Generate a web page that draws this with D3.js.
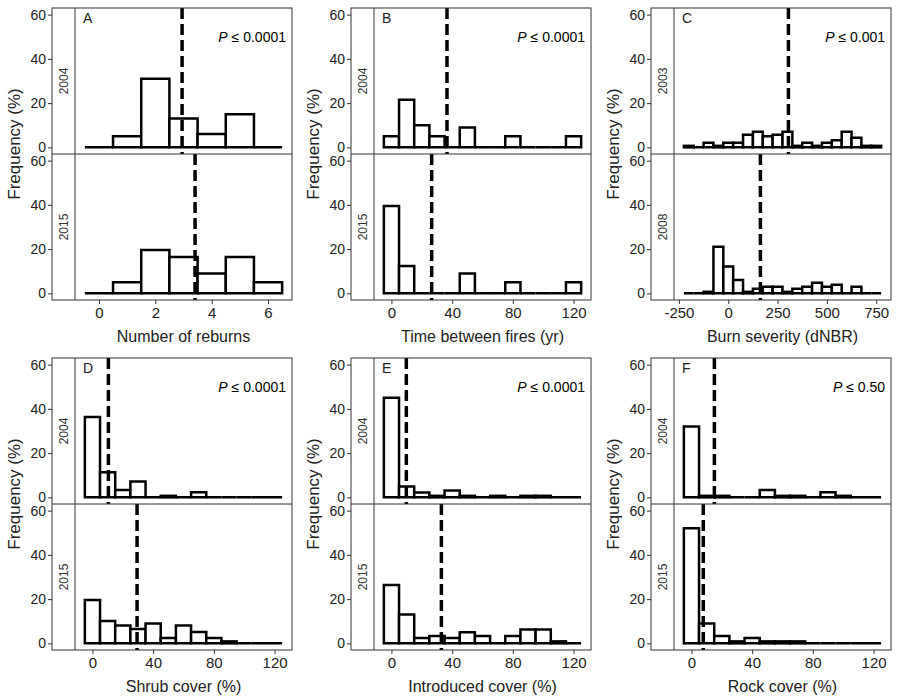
<!DOCTYPE html>
<html>
  <head>
    <meta charset="utf-8">
    <title>Reburn histograms</title>
    <script src="https://d3js.org/d3.v7.min.js"></script>
    <style>
      body { margin: 0; background: #ffffff; }
      text { font-family: "Liberation Sans", Arial, sans-serif; }
    </style>
  </head>
  <body>
    <svg width="900" height="700"></svg>
    <script>
      // panel texts
      var letters = ["A", "B", "C", "D", "E", "F"];
      var xTitles = ["Number of reburns", "Time between fires (yr)", "Burn severity (dNBR)",
                     "Shrub cover (%)", "Introduced cover (%)", "Rock cover (%)"];
      var pValues = ["0.0001", "0.0001", "0.001", "0.0001", "0.0001", "0.50"];
      var yearTop = ["2004", "2004", "2003", "2004", "2004", "2004"];
      var yearBottom = ["2015", "2015", "2008", "2015", "2015", "2015"];

      // bins: centre of first bin and bin width
      var firstBin = [0, 0, -200, 0, 0, 0];
      var binWidth = [1, 10, 50, 10, 10, 10];

      var xTicks = [[0, 2, 4, 6], [0, 40, 80, 120], [-250, 0, 250, 500, 750],
                    [0, 40, 80, 120], [0, 40, 80, 120], [0, 40, 80, 120]];
      var yTicks = [0, 20, 40, 60];

      // dashed lines (means)
      var meanTop = [2.95, 36.6, 305, 10.5, 9.8, 15.1];
      var meanBottom = [3.41, 26.5, 163, 29.4, 32.9, 7.8];

      // frequencies (%)
      var reburnsTop = [0, 5, 31, 13, 6, 15, 0];
      var reburnsBottom = [0, 5, 19.6, 16.4, 9, 16.4, 5];
      var intervalTop = [5, 21.5, 10, 5, 0, 9, 0, 0, 5, 0, 0, 0, 5];
      var intervalBottom = [39.5, 12.4, 0, 0, 0, 9, 0, 0, 5, 0, 0, 0, 5];
      var severityTop = [0.7, 0, 2.1, 0.7, 2.1, 2.1, 5.7, 7.1, 5, 5.7, 7.1, 0.7, 2.1, 0.7, 2.1, 3.2, 7.1, 4.3, 0.7, 0.7];
      var severityBottom = [0, 0, 0.7, 21.1, 12.1, 6, 0.7, 2.1, 3, 3, 0.7, 2.1, 3, 4.8, 3, 3.9, 0, 3, 0, 0];
      var shrubTop = [36.3, 11.3, 3.3, 7.2, 0, 0.7, 0, 2.3, 0, 0, 0, 0, 0];
      var shrubBottom = [19.6, 10.1, 8.1, 6.5, 9, 2.4, 8.1, 5.1, 2.4, 0.9, 0, 0, 0];
      var introducedTop = [45, 4.9, 2.2, 0.7, 3.1, 0.7, 0, 0.7, 0, 0.7, 0.7, 0, 0];
      var introducedBottom = [26.4, 13.1, 2.4, 3.3, 2.4, 5, 3.3, 0, 3.3, 6.3, 6.3, 0.9, 0];
      var rockTop = [32, 0.7, 0.7, 0, 0, 3.3, 0.7, 0.7, 0, 2.3, 0.7, 0, 0];
      var rockBottom = [52, 9, 3.3, 0.9, 2.4, 0.9, 0.9, 0.9, 0, 0, 0, 0, 0];

      var freqTop = [reburnsTop, intervalTop, severityTop, shrubTop, introducedTop, rockTop];
      var freqBottom = [reburnsBottom, intervalBottom, severityBottom, shrubBottom, introducedBottom, rockBottom];

      // layout
      var colLeft = [52, 351, 651],
          rowTop = [8, 358],
          boxWidth = 240,
          stripWidth = 23,
          facetHeight = 146;

      var svg = d3.select("svg");

      letters.forEach(function(letter, i) {
        var left = colLeft[i % 3],
            top = rowTop[Math.floor(i / 3)],
            dataLeft = left + stripWidth,
            right = left + boxWidth,
            bottom = top + 2 * facetHeight;

        var lo = firstBin[i] - binWidth[i] / 2,
            hi = firstBin[i] + binWidth[i] * (freqTop[i].length - 0.5),
            pad = (hi - lo) * 0.05;

        var x = d3.scaleLinear()
            .domain([lo - pad, hi + pad])
            .range([dataLeft, right]);

        var g = svg.append("g").attr("class", "panel");

        [freqTop[i], freqBottom[i]].forEach(function(values, f) {
          var fTop = top + f * facetHeight,
              fBottom = fTop + facetHeight;

          var y = d3.scaleLinear()
              .domain([-3, 63])
              .range([fBottom, fTop]);

          // bars
          g.selectAll(".bar-" + f)
            .data(values)
            .enter()
            .append("path")
            .attr("class", "bar-" + f)
            .attr("d", function(d, k) {
              var c = firstBin[i] + k * binWidth[i],
                  x0 = x(c - binWidth[i] / 2),
                  x1 = x(c + binWidth[i] / 2);
              return "M" + x0 + "," + y(0) + "H" + x1 + "V" + y(d) + "H" + x0 + "Z";
            })
            .attr("fill", "#ffffff")
            .attr("stroke", "#000000")
            .attr("stroke-width", 2.5)
            .attr("stroke-linejoin", "miter");

          // mean line
          var m = f === 0 ? meanTop[i] : meanBottom[i];
          g.append("line")
            .attr("x1", x(m))
            .attr("x2", x(m))
            .attr("y1", fTop)
            .attr("y2", fBottom)
            .attr("stroke", "#000000")
            .attr("stroke-width", 3.5)
            .attr("stroke-dasharray", "11,5");

          // y axis
          var yAxis = d3.axisLeft(y)
              .tickValues(yTicks)
              .tickSize(4)
              .tickPadding(2);
          var ya = g.append("g")
            .attr("transform", "translate(" + left + ",0)")
            .call(yAxis);
          ya.select(".domain").remove();
          ya.selectAll("line").attr("stroke", "#333333");
          ya.selectAll("text")
            .attr("fill", "#222222")
            .style("font-size", "14px")
            .style("font-family", "Liberation Sans, Arial, sans-serif");

          // strip label
          g.append("text")
            .attr("transform", "translate(" + (left + 16) + "," + (fTop + facetHeight / 2) + ") rotate(-90)")
            .attr("text-anchor", "middle")
            .attr("fill", "#333333")
            .style("font-size", "12px")
            .text(f === 0 ? yearTop[i] : yearBottom[i]);
        });

        // frame
        g.append("rect")
          .attr("x", left)
          .attr("y", top)
          .attr("width", boxWidth)
          .attr("height", 2 * facetHeight)
          .attr("fill", "none")
          .attr("stroke", "#333333")
          .attr("stroke-width", 1);
        g.append("line")
          .attr("x1", left).attr("x2", right)
          .attr("y1", top + facetHeight).attr("y2", top + facetHeight)
          .attr("stroke", "#333333");
        g.append("line")
          .attr("x1", dataLeft).attr("x2", dataLeft)
          .attr("y1", top).attr("y2", bottom)
          .attr("stroke", "#333333");

        // x axis (plain hyphen for negatives, as in the original)
        var xAxis = d3.axisBottom(x)
            .tickValues(xTicks[i])
            .tickFormat(function(d) { return String(d); })
            .tickSize(4)
            .tickPadding(3);
        var xa = g.append("g")
          .attr("transform", "translate(0," + bottom + ")")
          .call(xAxis);
        xa.select(".domain").remove();
        xa.selectAll("line").attr("stroke", "#333333");
        xa.selectAll("text")
          .attr("fill", "#222222")
          .style("font-size", "15px")
          .style("font-family", "Liberation Sans, Arial, sans-serif");

        // titles
        g.append("text")
          .attr("x", (dataLeft + right) / 2)
          .attr("y", bottom + 42)
          .attr("text-anchor", "middle")
          .attr("fill", "#222222")
          .style("font-size", "16px")
          .text(xTitles[i]);

        g.append("text")
          .attr("transform", "translate(" + (left - 32) + "," + (top + facetHeight - 10) + ") rotate(-90)")
          .attr("text-anchor", "middle")
          .attr("fill", "#222222")
          .style("font-size", "17px")
          .text("Frequency (%)");

        g.append("text")
          .attr("x", dataLeft + 8)
          .attr("y", top + 15)
          .attr("fill", "#222222")
          .style("font-size", "14px")
          .text(letter);

        var p = g.append("text")
          .attr("x", right - 6)
          .attr("y", top + 34)
          .attr("text-anchor", "end")
          .attr("fill", "#000000")
          .style("font-size", "14px");
        p.append("tspan").style("font-style", "italic").text("P");
        p.append("tspan").text(" \u2264 " + pValues[i]);
      });
    </script>
  </body>
</html>
